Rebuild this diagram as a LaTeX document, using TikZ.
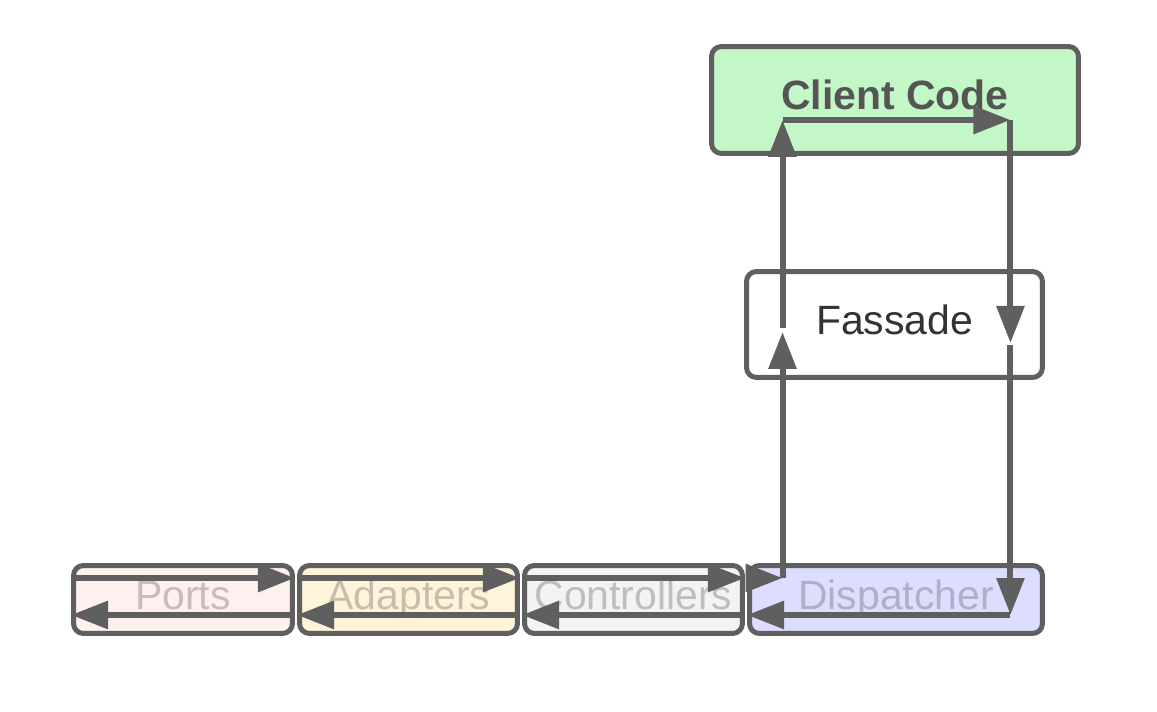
\documentclass[tikz,border=0pt]{standalone}
\usepackage{fontspec}
\setmainfont{Liberation Sans}
\usepackage{tikz}
\usetikzlibrary{arrows.meta}
\definecolor{edge}{HTML}{5F5F5F}
\definecolor{clientfill}{HTML}{C3F7C8}
\definecolor{portsfill}{HTML}{FFF0F0}
\definecolor{adapterfill}{HTML}{FFF3DA}
\definecolor{controlfill}{HTML}{F2F3F5}
\definecolor{dispatchfill}{HTML}{DDDDFF}

\begin{document}
\begin{tikzpicture}[x=0.02cm,y=-0.02cm]
\tikzstyle{every node}=[draw=edge,line width=0.1cm,rounded corners=0.2cm,font=\fontsize{23.3}{28}\selectfont,text height=0.6cm,text depth=0.2cm,inner sep=0pt];
\tikzstyle{layer}=[minimum height=1.36cm,text=black!73,text opacity=0.3];
\tikzstyle{flow}=[draw=edge,line width=0.12cm,-{Triangle[length=0.74cm,width=0.54cm]}];
\useasboundingbox (0,0) rectangle (1157,712);
\node (client) at (895,100) [fill=clientfill,minimum width=7.34cm,minimum height=2.14cm,text=edge!90!black,font=\fontsize{23.3}{28}\selectfont\bfseries] {Client Code};
\node (fassade) at (894.5,324.5) [fill=white,minimum width=5.92cm,minimum height=2.12cm,text=black!80] {Fassade};
\node (ports) at (183,599.5) [layer,fill=portsfill,minimum width=4.38cm] {Ports};
\node (adapters) at (408.5,599.5) [layer,fill=adapterfill,minimum width=4.36cm] {Adapters};
\node (controllers) at (633.5,599.5) [layer,fill=controlfill,minimum width=4.36cm] {Controllers};
\node (dispatcher) at (896,599.5) [layer,fill=dispatchfill,minimum width=5.86cm] {Dispatcher};
\coordinate (upx) at ([xshift=0.77cm]fassade.west);
\coordinate (downx) at ([xshift=-0.69cm]fassade.east);
\coordinate (top) at ([yshift=-0.4cm]client.center);
\coordinate (lanein) at ([yshift=0.43cm]dispatcher.west);
\coordinate (laneout) at ([yshift=-0.31cm]dispatcher.east);
\foreach \b in {ports,adapters,controllers}
	\draw[flow] ([yshift=0.43cm]\b.west) -- ([yshift=0.43cm]\b.east);
\draw[flow] (lanein) -- (lanein -| upx);
\draw[flow] (lanein -| upx) -- ([yshift=-0.15cm]upx);
\draw[flow] ([yshift=-0.07cm]upx) -- (upx |- top);
\draw[flow] (upx |- top) -- (downx |- top);
\draw[flow] (downx |- top) -- ([yshift=-0.37cm]downx);
\draw[flow] ([yshift=-0.41cm]downx) -- (downx |- laneout);
\draw[flow] (downx |- laneout) -- ([yshift=-0.31cm]dispatcher.west);
\foreach \b in {controllers,adapters,ports}
	\draw[flow] ([yshift=-0.31cm]\b.east) -- ([yshift=-0.31cm]\b.west);
\end{tikzpicture}
\end{document}
